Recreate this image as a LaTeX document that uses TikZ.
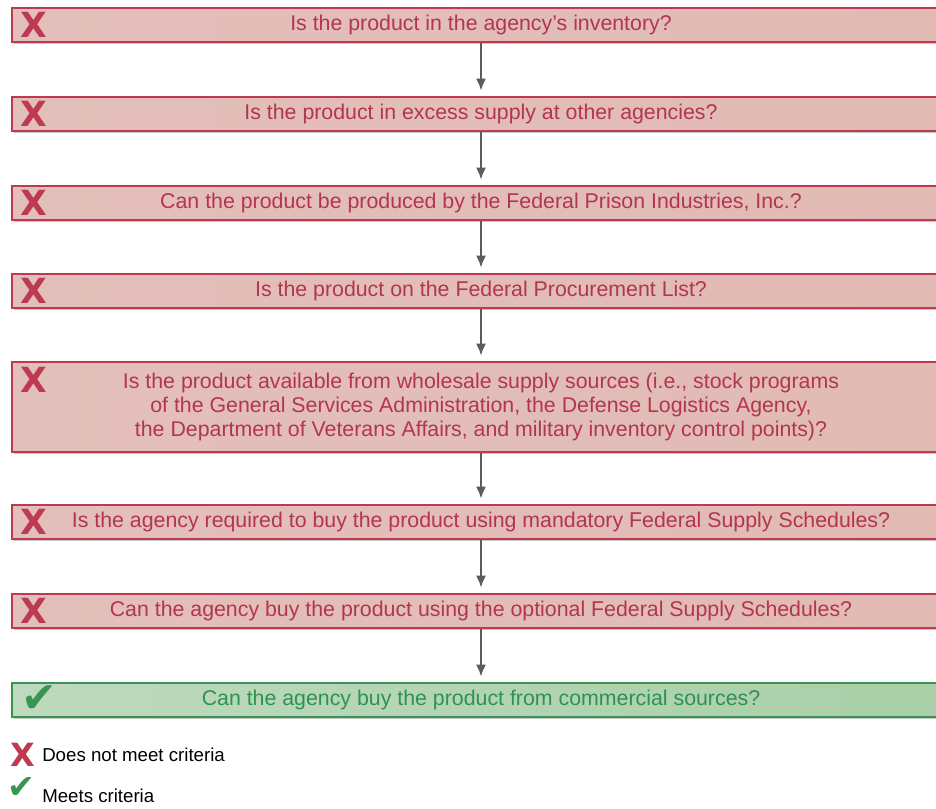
\documentclass[tikz,border=0pt]{standalone}
\usepackage{fontspec}
\setmainfont{Liberation Sans}
\newfontfamily\symfont{DejaVu Sans}
\usetikzlibrary{shadows,arrows.meta}
\definecolor{nored}{HTML}{BD3A50}
\definecolor{notext}{HTML}{B3354F}
\definecolor{noleft}{HTML}{E3BFBB}
\definecolor{nomid}{HTML}{EDDAD6}
\definecolor{noright}{HTML}{E2BAB4}
\definecolor{yesgreen}{HTML}{3A9552}
\definecolor{yestext}{HTML}{2E9250}
\definecolor{yesleft}{HTML}{BED9BE}
\definecolor{yesmid}{HTML}{D3E4D3}
\definecolor{yesright}{HTML}{A8CFA8}
\definecolor{arrowgray}{HTML}{5C5C5C}

\begin{document}
\begin{tikzpicture}[x=0.75pt, y=-0.75pt,
    question/.style ={rectangle, draw=nored, line width=1.5pt, minimum width=703pt,
      minimum height=25.5pt, align=center, text=notext,
      font=\fontsize{16}{18}\selectfont,
      left color=noleft, middle color=nomid, right color=noright,
      drop shadow={shadow xshift=1pt, shadow yshift=-1.5pt, fill=black!45, opacity=.5}},
    answer/.style ={question, draw=yesgreen, text=yestext,
      left color=yesleft, middle color=yesmid, right color=yesright},
    nomark/.style ={text=nored, font=\symfont\fontsize{26}{26}\bfseries\selectfont, inner sep=0pt},
    yesmark/.style ={text=yesgreen, font=\symfont\fontsize{32}{32}\selectfont, inner sep=0pt},
    legend/.style ={anchor=west, inner sep=0pt, font=\fontsize{14}{16}\selectfont},
    flow/.style ={draw=arrowgray, line width=1.5pt, shorten >=4pt, -{Latex[length=9pt,width=7.5pt]}}]
   \useasboundingbox (0,0) rectangle (936,808);

   \node[question] (q1) at (481,25)  {Is the product in the agency’s inventory?};
   \node[question] (q2) at (481,114) {Is the product in excess supply at other agencies?};
   \node[question] (q3) at (481,203) {Can the product be produced by the Federal Prison Industries, Inc.?};
   \node[question] (q4) at (481,291) {Is the product on the Federal Procurement List?};
   \node[question, minimum height=67.5pt] (q5) at (481,407)
     {Is the product available from wholesale supply sources (i.e., stock programs\\
      of the General Services Administration, the Defense Logistics Agency,\\
      the Department of Veterans Affairs, and military inventory control points)?};
   \node[question] (q6) at (481,522) {Is the agency required to buy the product using mandatory Federal Supply Schedules?};
   \node[question] (q7) at (481,611) {Can the agency buy the product using the optional Federal Supply Schedules?};
   \node[answer]   (q8) at (481,700) {Can the agency buy the product from commercial sources?};

   \node[nomark] (x1) at (34,25)  {X};
   \node[nomark] (x2) at (34,114) {X};
   \node[nomark] (x3) at (34,203) {X};
   \node[nomark] (x4) at (34,291) {X};
   \node[nomark] (x5) at (34,380) {X};
   \node[nomark] (x6) at (34,522) {X};
   \node[nomark] (x7) at (34,611) {X};
   \node[yesmark] (c8) at (39,699) {✔};

   \draw[flow] (q1) to (q2);
   \draw[flow] (q2) to (q3);
   \draw[flow] (q3) to (q4);
   \draw[flow] (q4) to (q5);
   \draw[flow] (q5) to (q6);
   \draw[flow] (q6) to (q7);
   \draw[flow] (q7) to (q8);

   \node[nomark, font=\symfont\fontsize{24}{24}\bfseries\selectfont] (lx) at (23,755) {X};
   \node[legend] (lxt) at (42,755) {Does not meet criteria};
   \node[yesmark, font=\symfont\fontsize{25}{25}\selectfont] (lc) at (21,788) {✔};
   \node[legend] (lct) at (42,796) {Meets criteria};
 \end{tikzpicture}
\end{document}
